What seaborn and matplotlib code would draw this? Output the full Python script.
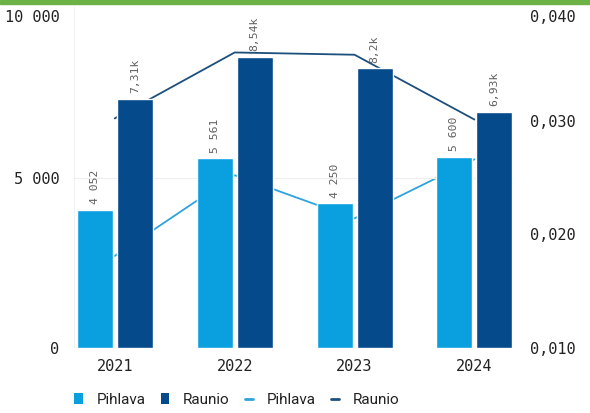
import matplotlib
matplotlib.use("Agg")
import matplotlib.pyplot as plt
import seaborn as sns
import pandas as pd
import numpy as np
from matplotlib.patches import Patch
from matplotlib.lines import Line2D
from matplotlib.ticker import FuncFormatter, FixedLocator
from matplotlib.transforms import ScaledTranslation

years = ["2021", "2022", "2023", "2024"]
series = ["Pihlava", "Raunio"]
pihlava_bars = [4052, 5561, 4250, 5600]
raunio_bars = [7310, 8540, 8200, 6930]
pihlava_line = [0.0181, 0.0252, 0.0214, 0.0266]
raunio_line = [0.0302, 0.0360, 0.0358, 0.0301]
pihlava_labels = ["4 052", "5 561", "4 250", "5 600"]
raunio_labels = ["7,31k", "8,54k", "8,2k", "6,93k"]
left_ticks = [0, 5000, 10000]
right_ticks = [0.010, 0.020, 0.030, 0.040]

c_pih = "#0aa0df"
c_rau = "#054a8b"
c_pih_line = "#2ea3dc"
c_rau_line = "#1d4f7c"

sns.set_theme(style="white")
plt.rcParams["font.family"] = ["DejaVu Sans Mono"]

bars = pd.DataFrame({
    "year": years * 2,
    "series": [series[0]] * 4 + [series[1]] * 4,
    "value": pihlava_bars + raunio_bars,
})

fig = plt.figure(figsize=(5.9, 4.13), dpi=100)
ax = fig.add_axes([74 / 590, 1 - 348 / 413, (514 - 74) / 590, (348 - 7) / 413])
ax2 = ax.twinx()

sns.barplot(data=bars, x="year", y="value", hue="series", order=years,
            hue_order=series, palette=[c_pih, c_rau], width=0.667, gap=0.1,
            ax=ax, legend=False, saturation=1)

xs = np.arange(len(years))
sns.lineplot(x=xs, y=pihlava_line, ax=ax2, color=c_pih_line, linewidth=1.3)
sns.lineplot(x=xs, y=raunio_line, ax=ax2, color=c_rau_line, linewidth=1.3)

ax.set_zorder(ax2.get_zorder() + 1)
ax.patch.set_visible(False)
ax2.patch.set_facecolor("white")

xlo, xhi = -0.34, 3.33
ax.set_xlim(xlo, xhi)
ax.set_ylim(0, 10000)
ax2.set_ylim(0.010, 0.040)

# value labels
for i, container in enumerate(ax.containers):
    labs = pihlava_labels if i == 0 else raunio_labels
    for rect, lab in zip(container, labs):
        ax.annotate(lab, (rect.get_x() + rect.get_width() / 2, rect.get_height()),
                    xytext=(0, 4), textcoords="offset points", rotation=90,
                    ha="center", va="bottom", fontsize=8.2, color="#606060")

ax.yaxis.set_major_locator(FixedLocator(left_ticks))
ax.yaxis.set_major_formatter(FuncFormatter(lambda v, p: f"{int(v):,}".replace(",", " ")))
ax2.yaxis.set_major_locator(FixedLocator(right_ticks))
ax2.yaxis.set_major_formatter(FuncFormatter(lambda v, p: f"{v:.3f}".replace(".", ",")))

ax.set_xlabel("")
ax.set_ylabel("")
ax2.set_ylabel("")
for a in (ax, ax2):
    for s in a.spines.values():
        s.set_visible(False)
    a.tick_params(length=0, labelsize=11, colors="#222222")
ax.tick_params(axis="x", pad=8)
ax.tick_params(axis="y", pad=10.6)
ax2.tick_params(axis="y", pad=11.5)
ax.grid(False)
ax2.grid(False)
ax.axhline(5000, color="#eeeeee", linewidth=0.8, zorder=0)
ax.axvline(xlo, color="#f0f0f0", linewidth=0.8, zorder=0)
ax.axvline(xhi, color="#f0f0f0", linewidth=0.8, zorder=0)

fig.canvas.draw()
shift = ScaledTranslation(0, -3 / 100, fig.dpi_scale_trans)
for t in ax.get_yticklabels() + ax2.get_yticklabels():
    if t.get_text() in ("10 000", "0,040"):
        t.set_va("top")
        t.set_transform(t.get_transform() + shift)

# top green strip
fig.patches.append(plt.Rectangle((0, 1 - 4 / 413), 1, 4 / 413, transform=fig.transFigure,
                                 color="#6cb247", zorder=5))

handles = [
    Patch(facecolor=c_pih, edgecolor="none", label="Pihlava"),
    Patch(facecolor=c_rau, edgecolor="none", label="Raunio"),
    Line2D([0], [0], color=c_pih_line, linewidth=2, label="Pihlava"),
    Line2D([0], [0], color=c_rau_line, linewidth=2, label="Raunio"),
]
leg = fig.legend(handles=handles, loc="center", bbox_to_anchor=(237 / 590, 1 - 400 / 413),
                 ncol=4, frameon=False, handlelength=0.55, handleheight=0.7,
                 handletextpad=0.9, columnspacing=1.0,
                 prop={"family": "Roboto", "size": 11})
for t in leg.get_texts():
    t.set_color("#222222")

fig.savefig("out.png", dpi=100)
